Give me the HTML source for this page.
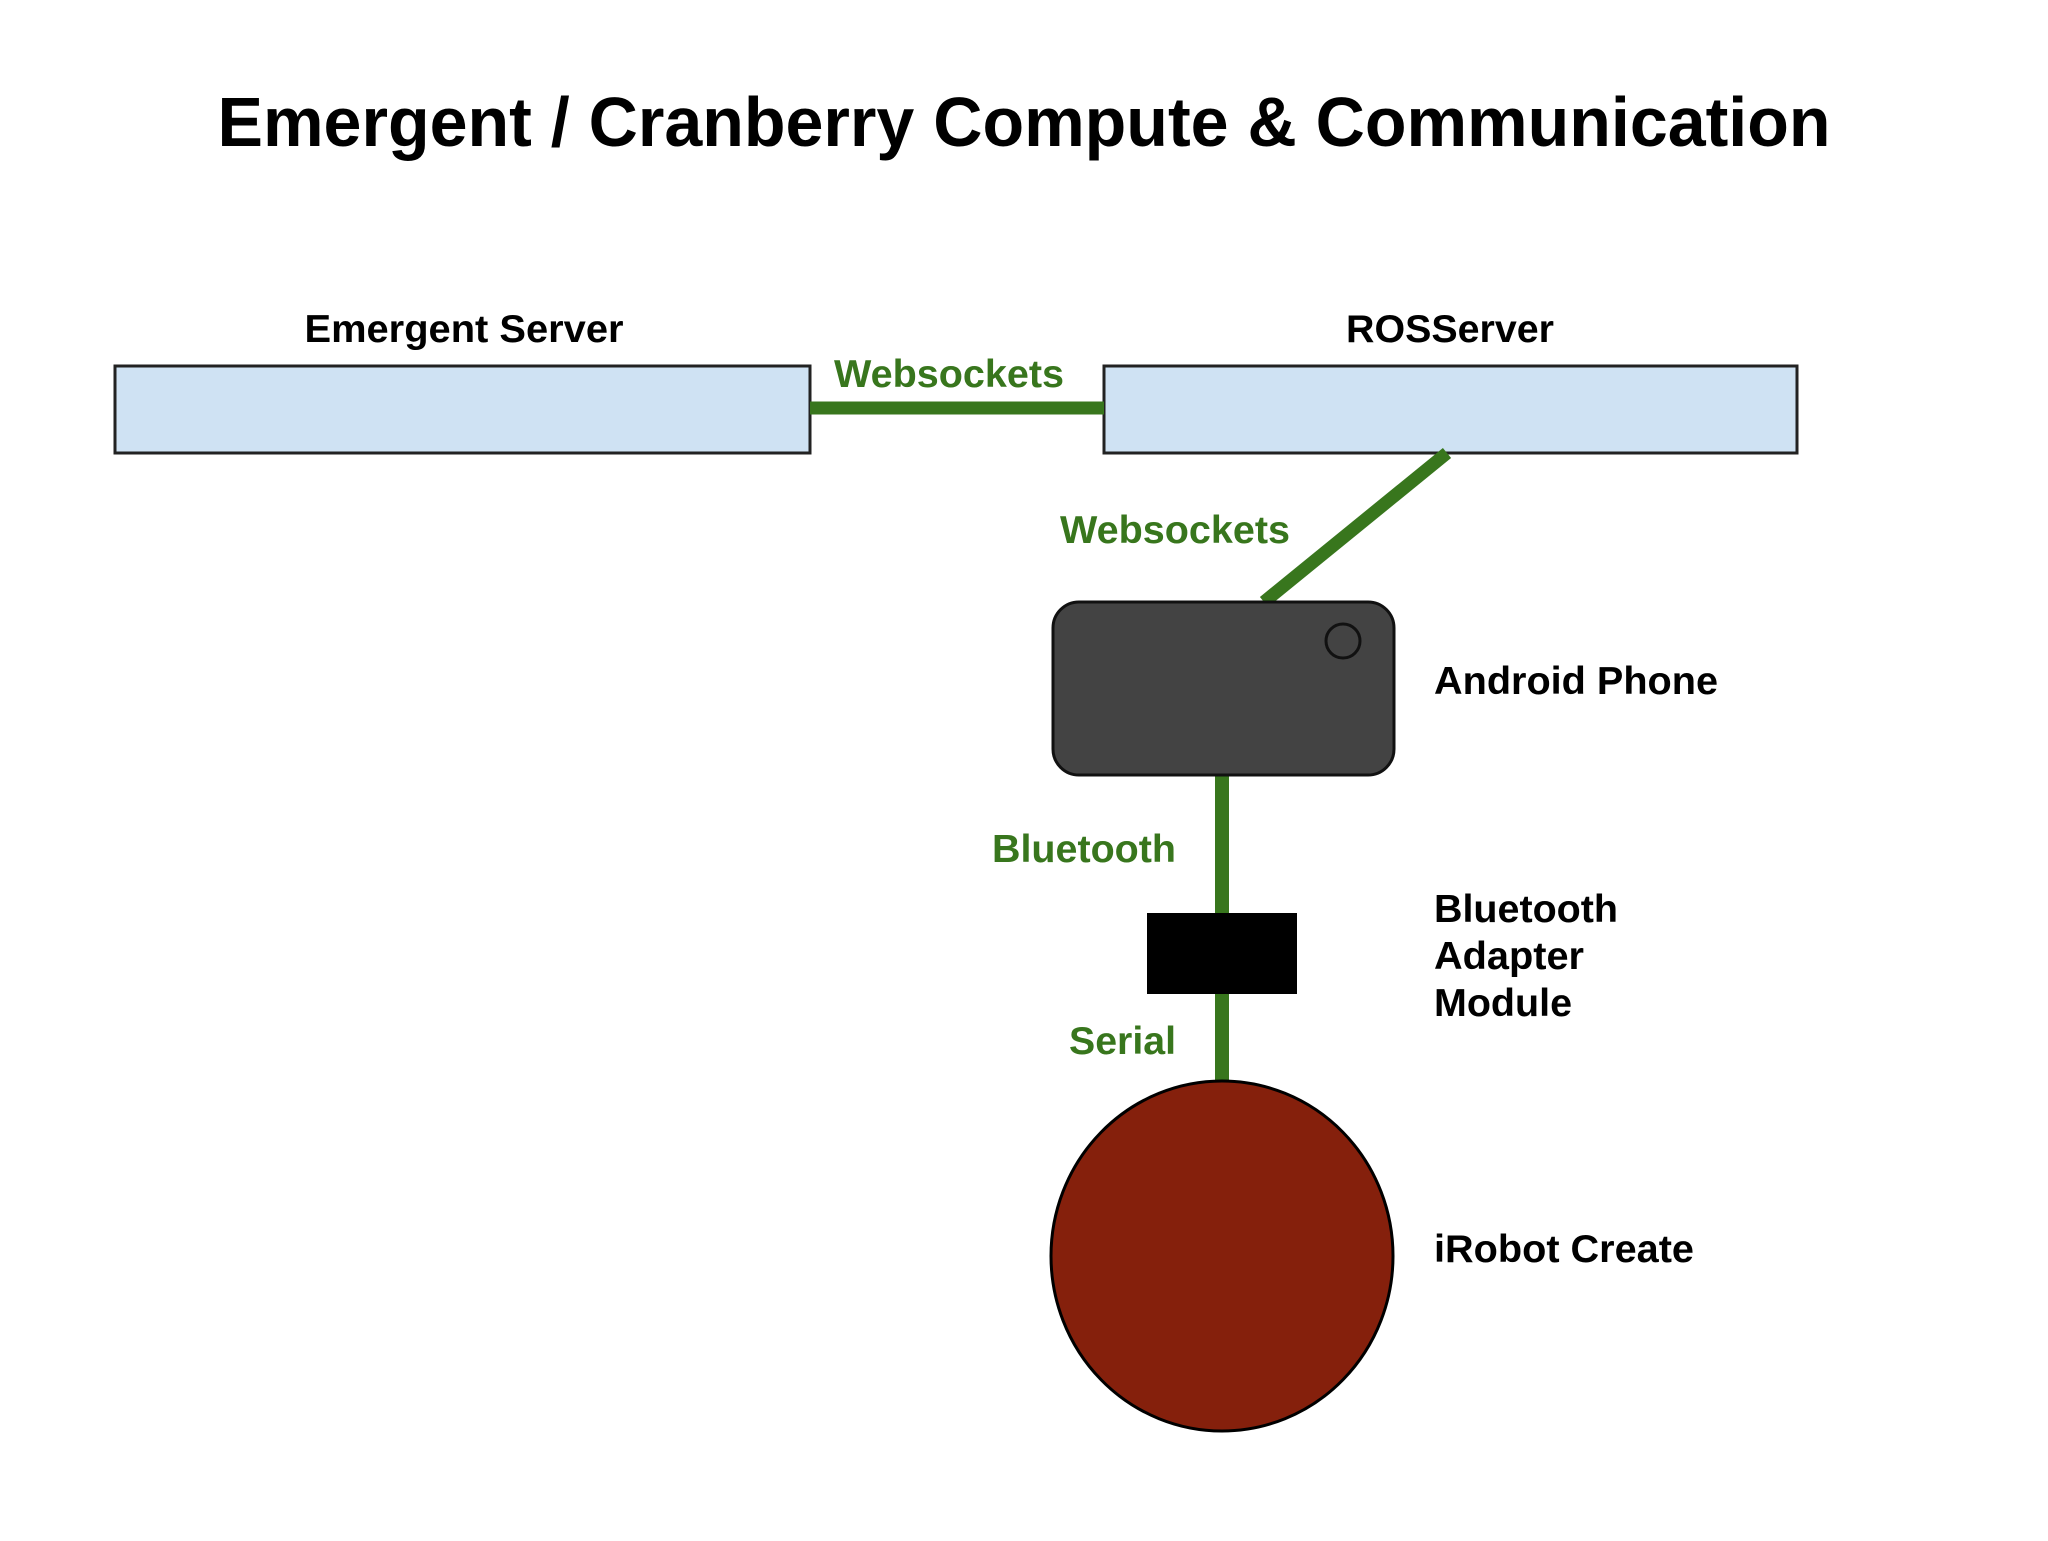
<!DOCTYPE html>
<html><head><style>html,body{margin:0;padding:0;background:#fff}</style></head>
<body>
<svg width="2048" height="1536" viewBox="0 0 2048 1536" xmlns="http://www.w3.org/2000/svg" font-family="'Liberation Sans', sans-serif" font-weight="bold">
<rect width="2048" height="1536" fill="#fff"/>
<text x="1024" y="146" font-size="70" text-anchor="middle" textLength="1613" lengthAdjust="spacingAndGlyphs" fill="#000">Emergent / Cranberry Compute &amp; Communication</text>
<rect x="115" y="366" width="695" height="87" fill="#cfe2f3" stroke="#222" stroke-width="3"/>
<rect x="1104" y="366" width="693" height="87" fill="#cfe2f3" stroke="#222" stroke-width="3"/>
<text x="464" y="342" font-size="39" text-anchor="middle" textLength="319" lengthAdjust="spacingAndGlyphs">Emergent Server</text>
<text x="1450" y="342" font-size="39" text-anchor="middle" textLength="208" lengthAdjust="spacingAndGlyphs">ROSServer</text>
<line x1="810" y1="408" x2="1104" y2="408" stroke="#38761d" stroke-width="13"/>
<text x="949" y="387" font-size="39" text-anchor="middle" fill="#38761d" textLength="230" lengthAdjust="spacingAndGlyphs">Websockets</text>
<line x1="1447" y1="453" x2="1264" y2="602" stroke="#38761d" stroke-width="13"/>
<text x="1175" y="543" font-size="39" text-anchor="middle" fill="#38761d" textLength="230" lengthAdjust="spacingAndGlyphs">Websockets</text>
<line x1="1222" y1="776" x2="1222" y2="1082" stroke="#38761d" stroke-width="14"/>
<rect x="1053" y="602" width="341" height="173" rx="26" fill="#434343" stroke="#111" stroke-width="3"/>
<circle cx="1343" cy="641" r="17" fill="none" stroke="#111" stroke-width="3"/>
<text x="1434" y="694" font-size="39" textLength="284" lengthAdjust="spacingAndGlyphs">Android Phone</text>
<text x="1176" y="862" font-size="39" text-anchor="end" fill="#38761d" textLength="184" lengthAdjust="spacingAndGlyphs">Bluetooth</text>
<rect x="1147" y="913" width="150" height="81" fill="#000"/>
<text x="1176" y="1054" font-size="39" text-anchor="end" fill="#38761d" textLength="107" lengthAdjust="spacingAndGlyphs">Serial</text>
<text x="1434" y="922" font-size="39" textLength="184" lengthAdjust="spacingAndGlyphs">Bluetooth</text>
<text x="1434" y="969" font-size="39" textLength="150" lengthAdjust="spacingAndGlyphs">Adapter</text>
<text x="1434" y="1016" font-size="39" textLength="138" lengthAdjust="spacingAndGlyphs">Module</text>
<ellipse cx="1222" cy="1256" rx="171" ry="175" fill="#85200c" stroke="#000" stroke-width="3"/>
<text x="1434" y="1262" font-size="39" textLength="260" lengthAdjust="spacingAndGlyphs">iRobot Create</text>
</svg>
</body></html>
